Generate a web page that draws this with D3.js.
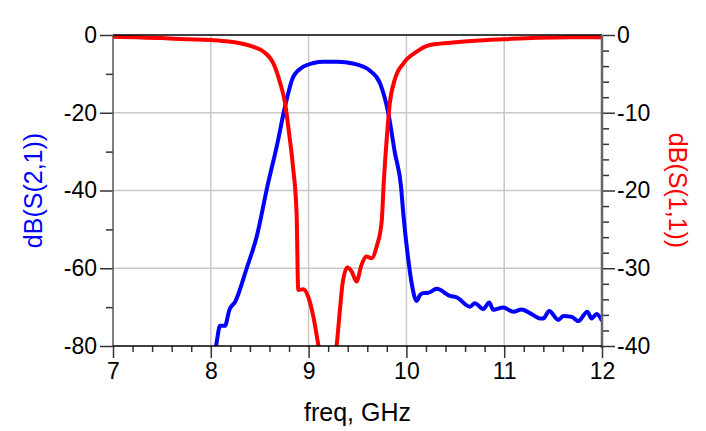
<!DOCTYPE html>
<html>
<head>
<meta charset="utf-8">
<script src="https://cdn.jsdelivr.net/npm/d3@7"></script>
<style>
  body { margin: 0; background: #fff; }
  text { font-family: "Liberation Sans", Arial, sans-serif; }
</style>
</head>
<body>
<div id="chart"></div>
<script>
// S21 (left axis, dB) and S11 (right axis, dB) vs frequency in GHz
var s21Freq = [8.00, 8.053, 8.094, 8.145, 8.19, 8.25, 8.367, 8.469, 8.578, 8.68, 8.759, 8.844, 8.946, 9.05, 9.15, 9.287, 9.40, 9.49, 9.628, 9.73, 9.815, 9.883, 9.945, 9.968, 10.02, 10.054, 10.105, 10.139, 10.17, 10.224, 10.31, 10.446, 10.514, 10.65, 10.70, 10.786, 10.847, 10.888, 10.99, 11.093, 11.178, 11.28, 11.366, 11.40, 11.46, 11.553, 11.604, 11.69, 11.758, 11.85, 11.894, 11.945, 12.0],
    s21dB = [-84, -80, -74.8, -74.8, -70.7, -68.6, -60.0, -51.9, -39.0, -28, -18.4, -10.7, -8.15, -7.2, -6.86, -6.86, -7.1, -7.55, -9.2, -12.4, -20.1, -30.4, -39.0, -45.9, -57.9, -63.9, -68.4, -66.9, -66.4, -66.3, -65.3, -67.1, -67.5, -69.9, -69.0, -70.5, -68.8, -70.7, -70.1, -71.2, -70.6, -71.8, -72.9, -72.9, -71.0, -73.3, -72.3, -72.5, -73.6, -71.2, -72.9, -71.8, -73.5],
    s11Freq = [7.0, 7.5, 7.75, 7.99, 8.15, 8.30, 8.45, 8.54, 8.64, 8.71, 8.76, 8.80, 8.84, 8.877, 8.894, 8.946, 8.997, 9.048, 9.1, 9.19, 9.287, 9.32, 9.348, 9.396, 9.44, 9.49, 9.54, 9.59, 9.645, 9.696, 9.747, 9.77, 9.798, 9.83, 9.88, 9.97, 10.105, 10.24, 10.45, 10.7, 10.99, 11.33, 11.7, 12.0],
    s11dB = [-0.22, -0.4, -0.55, -0.64, -0.8, -1.07, -1.6, -2.15, -3.64, -6.2, -8.8, -12.6, -16.9, -22.9, -32.8, -32.7, -33.7, -36.2, -39.9, -46, -39.9, -35.4, -31.9, -29.9, -30.4, -31.7, -29.6, -28.5, -28.7, -27.2, -24.0, -18.6, -13.5, -8.8, -5.8, -3.64, -2.15, -1.29, -1.0, -0.75, -0.55, -0.35, -0.3, -0.3],
    xTicks = [7, 8, 9, 10, 11, 12],
    leftTicks = [0, -20, -40, -60, -80],
    rightTicks = [0, -10, -20, -30, -40];

var width = 706, height = 431,
    margin = { top: 35, right: 104, bottom: 85, left: 113 },
    w = width - margin.left - margin.right,
    h = height - margin.top - margin.bottom,
    fmt = d => String(d);

var svg = d3.select("#chart").append("svg")
    .attr("width", width)
    .attr("height", height);

var g = svg.append("g")
    .attr("transform", "translate(" + margin.left + "," + margin.top + ")");

var x = d3.scaleLinear().domain([7, 12]).range([0, w]),
    yL = d3.scaleLinear().domain([-80, 0]).range([h, 0]),
    yR = d3.scaleLinear().domain([-40, 0]).range([h, 0]);

// grid
g.selectAll(".vgrid").data(xTicks.slice(1, -1)).enter().append("line")
    .attr("x1", d => x(d)).attr("x2", d => x(d))
    .attr("y1", 0).attr("y2", h)
    .attr("stroke", "#c8c8c8").attr("stroke-width", 1.5);
g.selectAll(".hgrid").data(leftTicks.slice(1, -1)).enter().append("line")
    .attr("x1", 0).attr("x2", w)
    .attr("y1", d => yL(d)).attr("y2", d => yL(d))
    .attr("stroke", "#c8c8c8").attr("stroke-width", 1.5);

// curves
g.append("clipPath").attr("id", "clip").append("rect")
    .attr("x", 0).attr("y", -2).attr("width", w).attr("height", h + 2);

var s21 = s21Freq.map((f, i) => [f, s21dB[i]]),
    s11 = s11Freq.map((f, i) => [f, s11dB[i]]);

g.append("path").datum(s21)
    .attr("clip-path", "url(#clip)")
    .attr("fill", "none").attr("stroke", "#0000ff").attr("stroke-width", 4)
    .attr("stroke-linejoin", "round")
    .attr("d", d3.line().curve(d3.curveMonotoneX).x(d => x(d[0])).y(d => yL(d[1])));

g.append("path").datum(s11)
    .attr("clip-path", "url(#clip)")
    .attr("fill", "none").attr("stroke", "#ff0000").attr("stroke-width", 4)
    .attr("stroke-linejoin", "round")
    .attr("d", d3.line().curve(d3.curveMonotoneX).x(d => x(d[0])).y(d => yR(d[1])));

// top border
g.append("line").attr("x1", 0).attr("x2", w).attr("y1", 0).attr("y2", 0)
    .attr("stroke", "#000").attr("stroke-width", 1.5);

// left axis
var leftAxis = g.append("g").call(d3.axisLeft(yL).tickValues(leftTicks).tickSize(13).tickPadding(3).tickFormat(fmt));
leftAxis.select(".domain").remove();
g.append("g").call(d3.axisLeft(yL).tickValues([-10, -30, -50, -70]).tickSize(7).tickFormat(""))
    .select(".domain").remove();
g.append("line").attr("x1", 0).attr("x2", 0).attr("y1", 0).attr("y2", h)
    .attr("stroke", "#555").attr("stroke-width", 1.5);

// right axis
var rightAxis = g.append("g").attr("transform", "translate(" + w + ",0)")
    .call(d3.axisRight(yR).tickValues(rightTicks).tickSize(13).tickPadding(2).tickFormat(fmt));
rightAxis.select(".domain").remove();
g.append("g").attr("transform", "translate(" + w + ",0)")
    .call(d3.axisRight(yR).tickValues(d3.range(-38, 0, 2).filter(v => v % 10 !== 0)).tickSize(7).tickFormat(""))
    .select(".domain").remove();
g.append("line").attr("x1", w).attr("x2", w).attr("y1", 0).attr("y2", h + 2)
    .attr("stroke", "#666").attr("stroke-width", 2.5);

// bottom axis
var bottomAxis = g.append("g").attr("transform", "translate(0," + h + ")")
    .call(d3.axisBottom(x).tickValues(xTicks).tickSize(12).tickPadding(5).tickFormat(fmt));
bottomAxis.select(".domain").remove();
g.append("g").attr("transform", "translate(0," + h + ")")
    .call(d3.axisBottom(x).tickValues(d3.range(7.2, 12, 0.2).filter(v => Math.abs(v - Math.round(v)) > 0.01)).tickSize(6).tickFormat(""))
    .select(".domain").remove();
g.append("line").attr("x1", 0).attr("x2", w).attr("y1", h).attr("y2", h)
    .attr("stroke", "#000").attr("stroke-width", 1.5);

svg.selectAll(".tick line").attr("stroke", "#333").attr("stroke-width", 1.5);
svg.selectAll(".tick text").attr("font-size", 23).attr("fill", "#000")
    .style("font-family", "'Liberation Sans', Arial, sans-serif");

// titles
svg.append("text")
    .attr("x", margin.left + w / 2).attr("y", 421)
    .attr("text-anchor", "middle").attr("font-size", 25).attr("fill", "#000")
    .text("freq, GHz");

svg.append("text")
    .attr("transform", "translate(42," + (margin.top + h / 2) + ") rotate(-90)")
    .attr("text-anchor", "middle").attr("font-size", 25).attr("fill", "#0000ff")
    .text("dB(S(2,1))");

svg.append("text")
    .attr("transform", "translate(669," + (margin.top + h / 2) + ") rotate(90)")
    .attr("text-anchor", "middle").attr("font-size", 25).attr("fill", "#ff0000")
    .text("dB(S(1,1))");
</script>
</body>
</html>
